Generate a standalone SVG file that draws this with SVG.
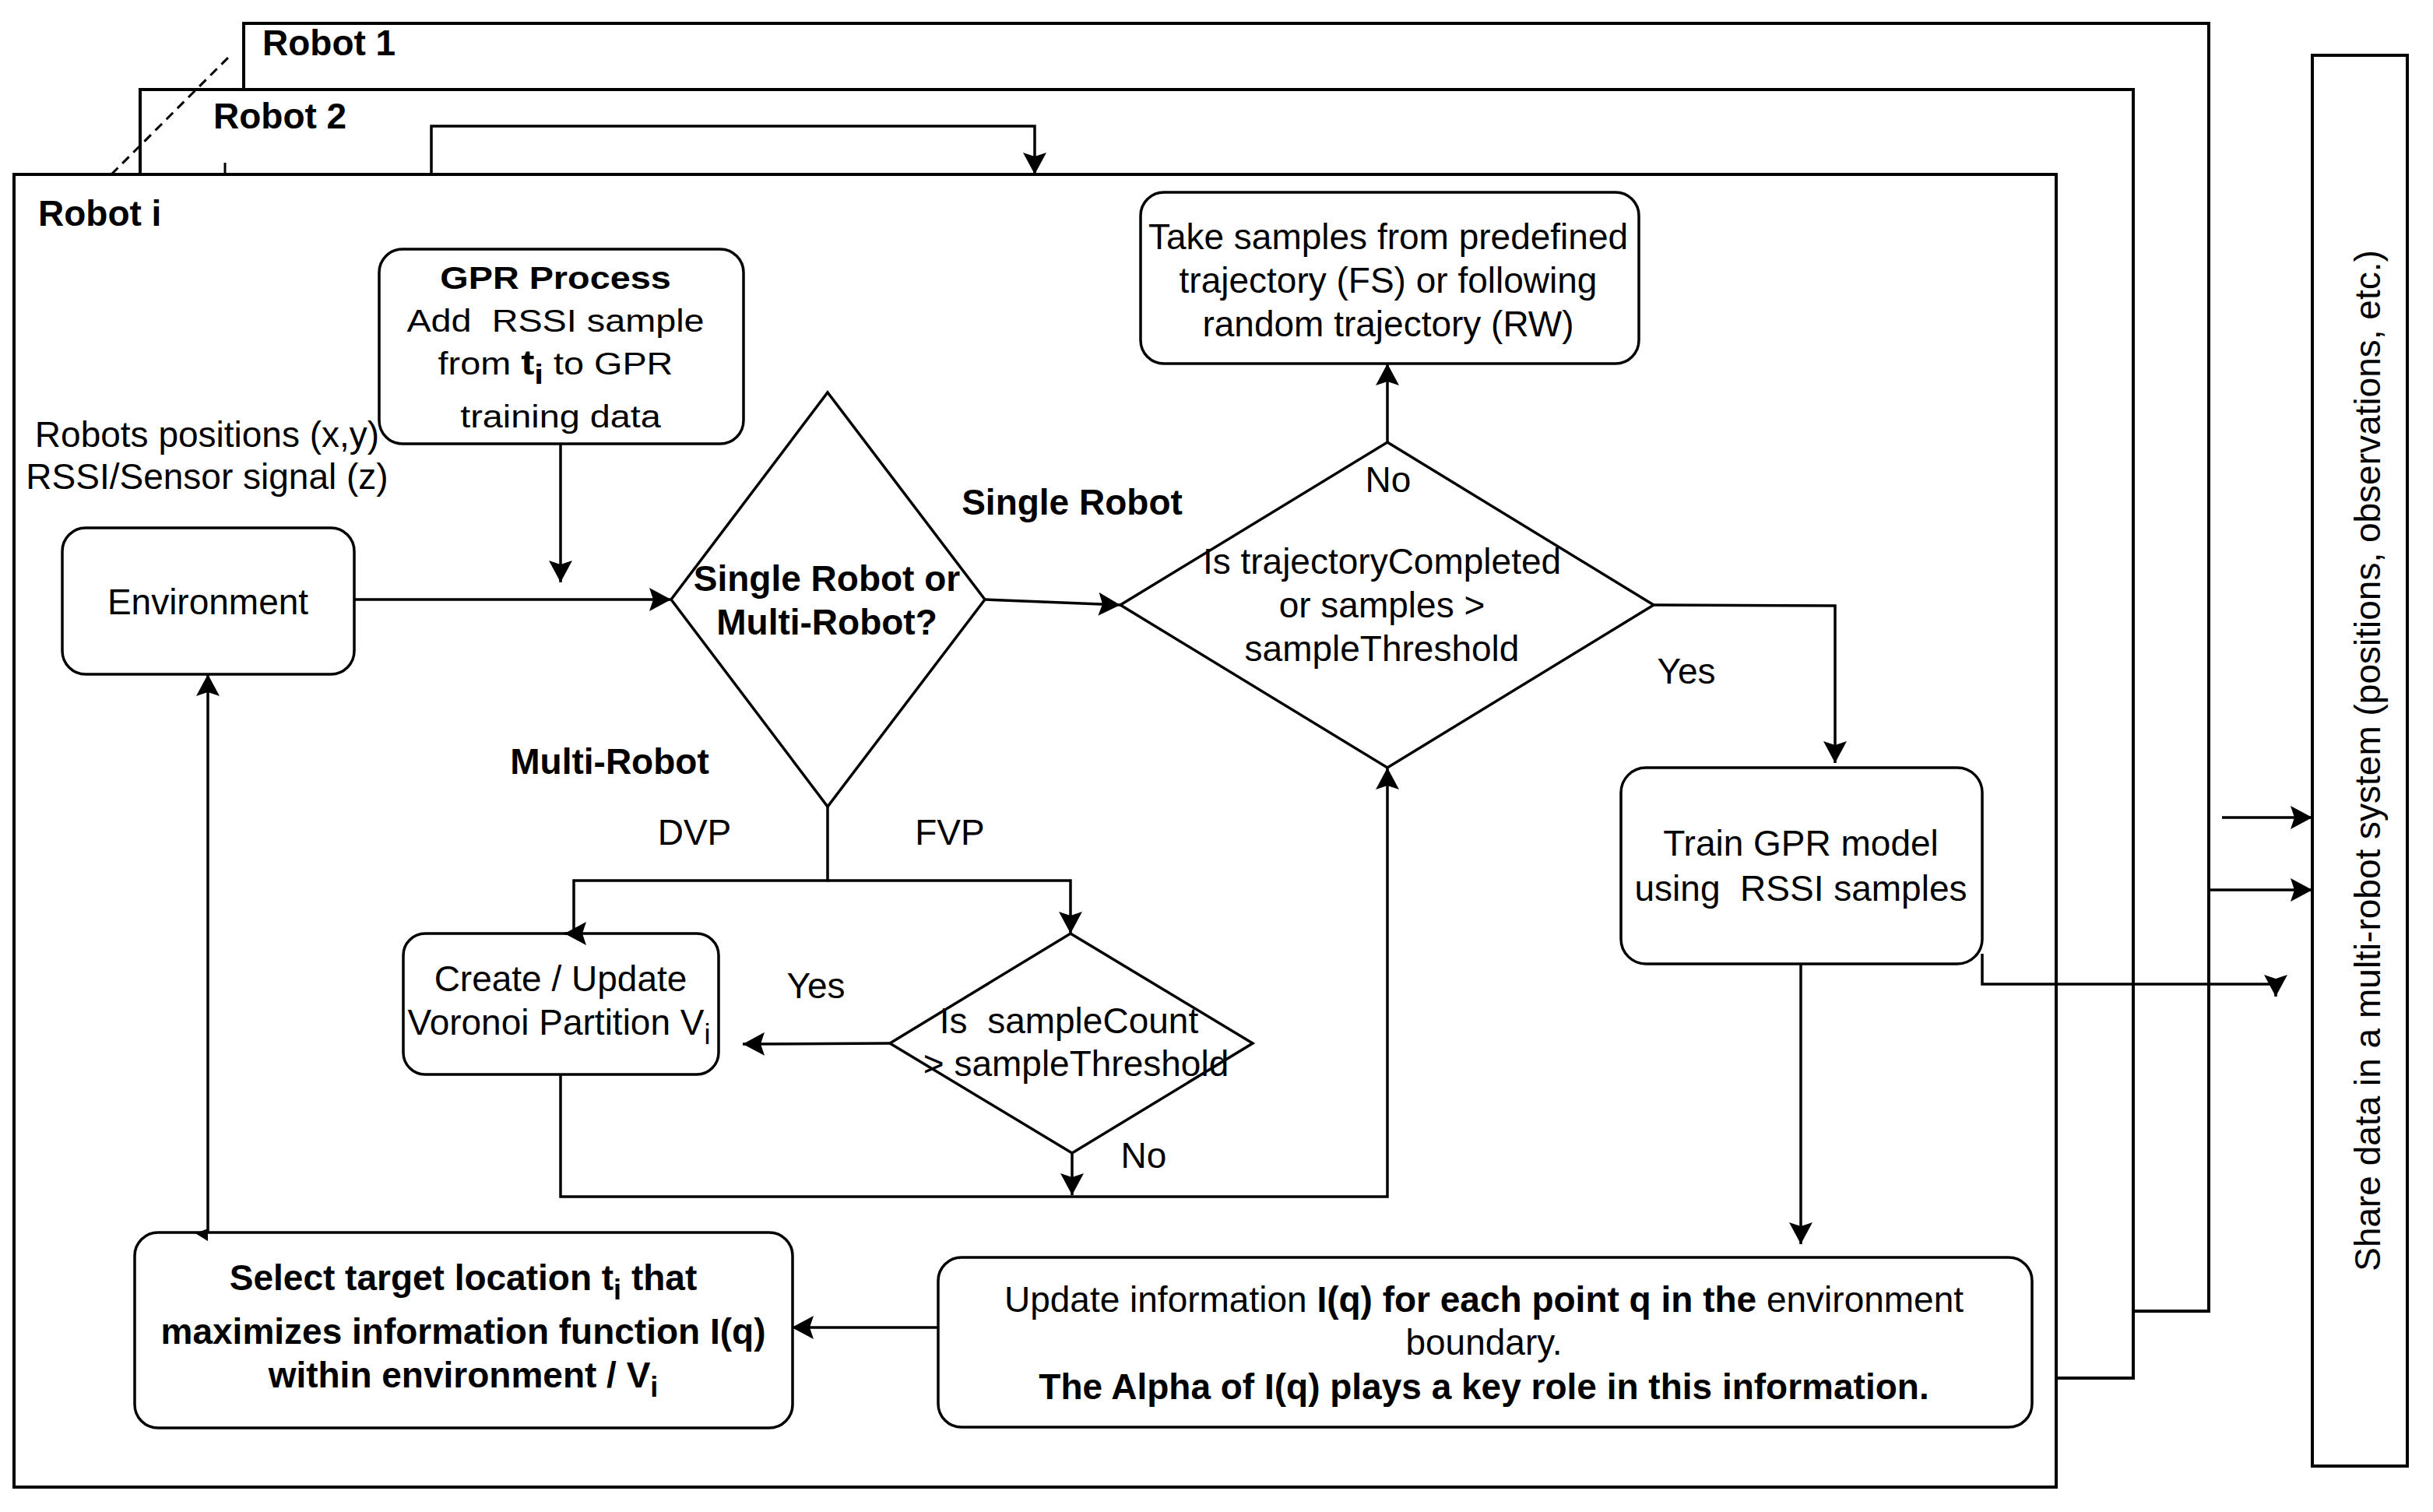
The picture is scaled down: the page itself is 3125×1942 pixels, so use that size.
<svg xmlns="http://www.w3.org/2000/svg" width="3125" height="1942" viewBox="0 0 3125 1942">
<style>
.t{font-family:"Liberation Sans",Arial,Helvetica,sans-serif;font-size:46px;fill:#000}
.b{font-weight:bold}
.frame{fill:#fff;stroke:#000;stroke-width:4}
.box{fill:#fff;stroke:#000;stroke-width:3.5}
.c{fill:none;stroke:#000;stroke-width:3.5}
</style>
<defs>
<marker id="ah" viewBox="0 0 28 30" refX="28" refY="15" markerWidth="28" markerHeight="30" orient="auto" markerUnits="userSpaceOnUse">
<path d="M0,0 L28,15 L0,30 L5,15 Z" fill="#000"/>
</marker>
</defs>
<rect width="3125" height="1942" fill="#fff"/>

<g id="frames">
<rect id="robot1" class="frame" x="313" y="30" width="2524" height="1654"/>
<rect id="robot2" class="frame" x="180" y="115" width="2560" height="1655"/>
<rect id="roboti" class="frame" x="18" y="224" width="2623" height="1686"/>
<line x1="289" y1="209" x2="289" y2="224" stroke="#000" stroke-width="3"/>
<line x1="143" y1="224" x2="296" y2="71" stroke="#000" stroke-width="3" stroke-dasharray="12 8"/>
<text class="t b" x="337" y="71">Robot 1</text>
<text class="t b" x="274" y="165">Robot 2</text>
<text class="t b" x="49" y="290">Robot i</text>
</g>

<g id="share">
<rect class="frame" x="2970" y="71" width="122" height="1812"/>
<text class="t" transform="translate(3057,977) rotate(-90)" text-anchor="middle">Share data in a multi-robot system (positions, observations, etc.)</text>
</g>

<g id="n-env">
<rect class="box" x="80" y="678" width="375" height="188" rx="30"/>
<text class="t" x="267" y="789" text-anchor="middle">Environment</text>
</g>

<g id="n-inputs">
<text class="t" x="266" y="574" text-anchor="middle">Robots positions (x,y)</text>
<text class="t" x="266" y="628" text-anchor="middle">RSSI/Sensor signal (z)</text>
</g>

<g id="n-gpr">
<rect class="box" x="487" y="320" width="468" height="250" rx="30"/>
<text class="t" transform="translate(720,0) scale(1.17,1)" text-anchor="middle" style="font-size:40px">
<tspan x="0" y="371" class="b">GPR Process</tspan>
<tspan x="0" y="426">Add&#160; RSSI sample</tspan>
<tspan x="0" y="481">from <tspan class="b" style="font-size:44px">t<tspan style="font-size:36px" dy="12">i</tspan></tspan><tspan dy="-12"> to GPR</tspan></tspan>
<tspan x="0" y="549">training data</tspan>
</text>
</g>

<g id="n-decide">
<polygon class="box" points="1063,504 1265,770 1063,1036 862,770"/>
<text class="t b" x="1062" y="759" text-anchor="middle">Single Robot or</text>
<text class="t b" x="1062" y="815" text-anchor="middle">Multi-Robot?</text>
</g>

<g id="n-traj">
<polygon class="box" points="1782,568 2124,777 1782,986 1439,777"/>
<text class="t" x="1775" y="737" text-anchor="middle">Is trajectoryCompleted</text>
<text class="t" x="1775" y="793" text-anchor="middle">or samples &gt;</text>
<text class="t" x="1775" y="849" text-anchor="middle">sampleThreshold</text>
</g>

<g id="n-take">
<rect class="box" x="1465" y="247" width="640" height="220" rx="30"/>
<text class="t" x="1783" y="320" text-anchor="middle">Take samples from predefined</text>
<text class="t" x="1783" y="376" text-anchor="middle">trajectory (FS) or following</text>
<text class="t" x="1783" y="432" text-anchor="middle">random trajectory (RW)</text>
</g>

<g id="n-train">
<rect class="box" x="2082" y="986" width="464" height="252" rx="32"/>
<text class="t" x="2313" y="1099" text-anchor="middle">Train GPR model</text>
<text class="t" x="2313" y="1157" text-anchor="middle">using&#160; RSSI samples</text>
</g>

<g id="n-create">
<rect class="box" x="518" y="1199" width="405" height="181" rx="28"/>
<text class="t" x="720" y="1273" text-anchor="middle">Create / Update</text>
<text class="t" x="718" y="1329" text-anchor="middle">Voronoi Partition V<tspan style="font-size:36px" dy="12">i</tspan></text>
</g>

<g id="n-count">
<polygon class="box" points="1375,1199 1609,1340 1377,1481 1143,1340"/>
<text class="t" x="1373" y="1327" text-anchor="middle">Is&#160; sampleCount</text>
<text class="t" x="1382" y="1382" text-anchor="middle">&gt; sampleThreshold</text>
</g>

<g id="n-select">
<rect class="box" x="173" y="1583" width="845" height="251" rx="30"/>
<text class="t b" x="595" y="1657" text-anchor="middle">Select target location t<tspan style="font-size:36px" dy="12">i</tspan><tspan dy="-12"> that</tspan></text>
<text class="t b" x="595" y="1726" text-anchor="middle">maximizes information function I(q)</text>
<text class="t b" x="595" y="1782" text-anchor="middle">within environment / V<tspan style="font-size:36px" dy="12">i</tspan></text>
</g>

<g id="n-update">
<rect class="box" x="1205" y="1615" width="1405" height="218" rx="30"/>
<text class="t" x="1906" y="1685" text-anchor="middle">Update information <tspan class="b">I(q) for each point q in the</tspan> environment</text>
<text class="t" x="1906" y="1740" text-anchor="middle">boundary.</text>
<text class="t b" x="1906" y="1797" text-anchor="middle">The Alpha of I(q) plays a key role in this information.</text>
</g>

<g id="labels">
<text class="t b" x="1377" y="661" text-anchor="middle">Single Robot</text>
<text class="t" x="1783" y="632" text-anchor="middle">No</text>
<text class="t" x="2166" y="878" text-anchor="middle">Yes</text>
<text class="t b" x="783" y="994" text-anchor="middle">Multi-Robot</text>
<text class="t" x="892" y="1085" text-anchor="middle">DVP</text>
<text class="t" x="1220" y="1085" text-anchor="middle">FVP</text>
<text class="t" x="1048" y="1282" text-anchor="middle">Yes</text>
<text class="t" x="1469" y="1500" text-anchor="middle">No</text>
</g>

<g id="connectors">
<path class="c" d="M554,224 V162 H1329 V224" marker-end="url(#ah)"/>
<path class="c" d="M720,570 V748" marker-end="url(#ah)"/>
<path class="c" d="M455,770 H862" marker-end="url(#ah)"/>
<path class="c" d="M1265,770 L1439,777" marker-end="url(#ah)"/>
<path class="c" d="M1782,568 V467" marker-end="url(#ah)"/>
<path class="c" d="M2124,777 L2357,778 V980" marker-end="url(#ah)"/>
<path class="c" d="M1063,1036 V1131 H737 V1199 H725" marker-end="url(#ah)"/>
<path class="c" d="M1063,1131 H1375 V1199" marker-end="url(#ah)"/>
<path class="c" d="M1143,1340 L954,1341" marker-end="url(#ah)"/>
<path class="c" d="M1377,1481 V1535" marker-end="url(#ah)"/>
<path class="c" d="M720,1380 V1537 H1782 V986" marker-end="url(#ah)"/>
<path class="c" d="M2313,1238 V1598" marker-end="url(#ah)"/>
<path class="c" d="M1205,1705 H1017" marker-end="url(#ah)"/>
<path class="c" d="M267,1583 V866" marker-end="url(#ah)"/>
<polygon points="267,1578 267,1594 251,1584" fill="#000"/>
<path class="c" d="M2546,1225 V1264 H2923 V1280" marker-end="url(#ah)"/>
<path class="c" d="M2854,1050 H2970" marker-end="url(#ah)"/>
<path class="c" d="M2837,1143 H2970" marker-end="url(#ah)"/>
</g>
</svg>
